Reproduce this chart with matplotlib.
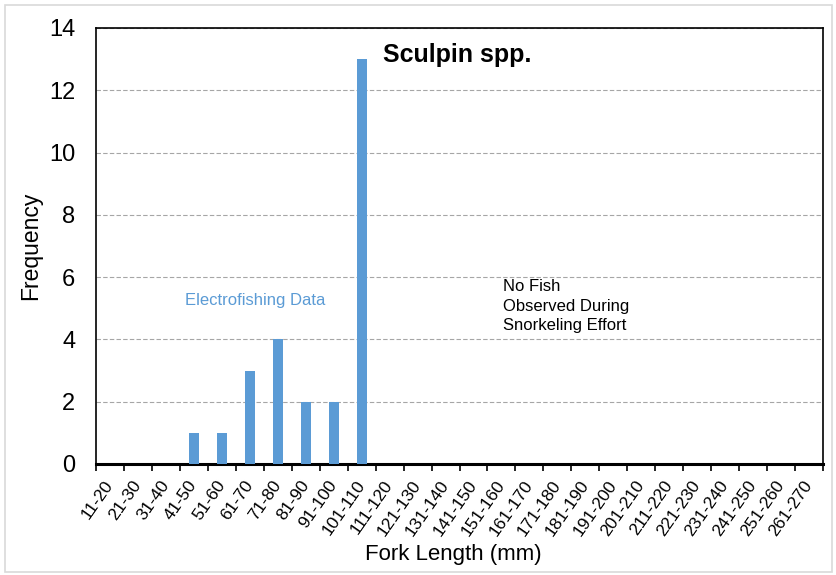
import matplotlib
matplotlib.use("Agg")
from matplotlib import pyplot as plt
from matplotlib.patches import Rectangle
import numpy as np

plt.rcParams['font.family'] = ['Liberation Sans', 'DejaVu Sans']

# Fork length classes (mm) and electrofishing counts
length_classes = ["%d-%d" % (lo, lo + 9) for lo in range(11, 262, 10)]
counts = [0, 0, 0, 1, 1, 3, 4, 2, 2, 13, 0, 0, 0, 0, 0, 0, 0, 0, 0, 0, 0, 0, 0, 0, 0, 0]

fig = plt.figure(figsize=(8.37, 5.75), dpi=100)
ax = fig.add_axes([96 / 837, 1 - 464 / 575, (823 - 96) / 837, (464 - 28) / 575])

# light frame around the whole chart
fig.patches.append(Rectangle((5 / 837, 3 / 575), 827 / 837, 567 / 575, transform=fig.transFigure,
                             fill=False, edgecolor="#d9d9d9", linewidth=1.2))

x = np.arange(len(length_classes))
ax.bar(x, counts, width=0.35, color="#5b9bd5", zorder=3)

ax.set_xlim(-0.5, len(length_classes) - 0.5)
ax.set_ylim(0, 14)
ax.set_yticks(range(0, 15, 2))
ax.yaxis.grid(True, linestyle=(0, (4, 2)), color="#a6a6a6", linewidth=0.8, zorder=0)

# ticks sit on category boundaries, labels centred in the category
ax.set_xticks(np.arange(-0.5, len(length_classes) + 0.5, 1))
ax.set_xticklabels([])
ax.set_xticks(x, minor=True)
ax.set_xticklabels(length_classes, minor=True, rotation=55, ha="right", va="center",
                   rotation_mode="anchor", fontsize=12.5)
ax.tick_params(axis="x", which="major", direction="out", length=5, width=1.2)
ax.tick_params(axis="x", which="minor", length=0, pad=13)
ax.tick_params(axis="y", length=0, labelsize=17, pad=15)

for side in ("left", "right", "top"):
    ax.spines[side].set_linewidth(1.2)
ax.spines["bottom"].set_linewidth(2.2)

ax.set_ylabel("Frequency", fontsize=16.5)
ax.yaxis.set_label_coords(-0.074, 0.5)
ax.set_xlabel("Fork Length (mm)", fontsize=16)
ax.xaxis.set_label_coords(0.491, -0.184)

ax.text(9.76, 13.13, "Sculpin spp.", fontsize=18, fontweight="bold", va="center")
ax.text(2.68, 5.25, "Electrofishing Data", fontsize=12, color="#5b9bd5", va="center")
ax.text(14.06, 5.93, "No Fish\nObserved During\nSnorkeling Effort", fontsize=12, va="top",
        linespacing=1.37)

fig.savefig("out.png", dpi=100)
